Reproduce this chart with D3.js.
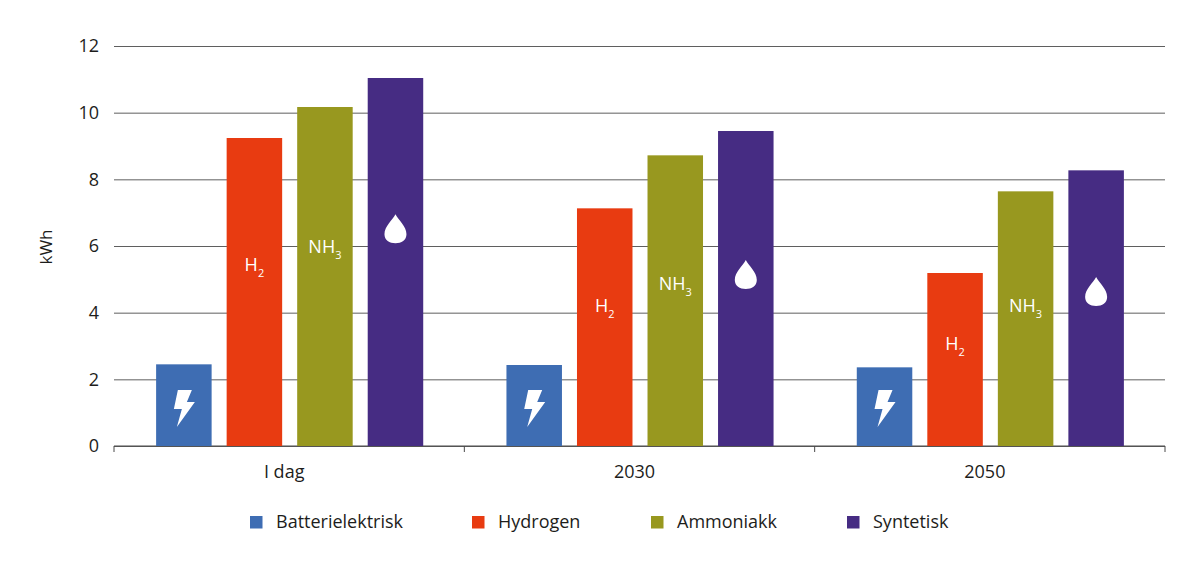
<!DOCTYPE html>
<html><head><meta charset="utf-8">
<script src="https://cdn.jsdelivr.net/npm/d3@7/dist/d3.min.js"></script>
<style>
html,body{margin:0;padding:0;background:#fff}
svg{display:block}
text{font-family:"Open Sans",sans-serif;fill:#1d1d1b}
</style></head><body>
<svg id="c" width="1200" height="569"></svg>
<script>
const periods = ["I dag", "2030", "2050"];
const seriesNames = ["Batterielektrisk", "Hydrogen", "Ammoniakk", "Syntetisk"];
const batteri = [2.45, 2.43, 2.36];
const hydrogen = [9.24, 7.13, 5.19];
const ammoniakk = [10.17, 8.72, 7.64];
const syntetisk = [11.04, 9.45, 8.27];
const colors = ["#3e6db3", "#e83b11", "#98981f", "#462c83"];
const yTicks = [0, 2, 4, 6, 8, 10, 12];
// heights (kWh) at which the icon / formula sits inside each bar
const batteriMark = [1.14, 1.14, 1.14];
const hydrogenMark = [5.43, 4.2, 3.06];
const ammoniakkMark = [5.97, 4.86, 4.2];
const syntetiskMark = [6.5, 5.13, 4.62];
const allValues = [batteri, hydrogen, ammoniakk, syntetisk];
const allMarks = [batteriMark, hydrogenMark, ammoniakkMark, syntetiskMark];
const markKinds = ["bolt", "H2", "NH3", "drop"];

const L = 114, R = 1165, T = 46, B = 446;
const svg = d3.select("#c");
const x0 = d3.scaleBand().domain(periods).range([L, R]);
const x1 = d3.scaleBand().domain(seriesNames).range([0.5, x0.bandwidth() + 0.5]).paddingInner(0.213).paddingOuter(0.59);
const y = d3.scaleLinear().domain([0, 12]).range([B, T]);

// grid + y axis labels
const gy = svg.append("g").attr("transform", `translate(${L},0)`)
  .call(d3.axisLeft(y).tickValues(yTicks).tickSize(-(R - L)).tickPadding(15).tickFormat(d3.format("d")));
gy.select(".domain").remove();
gy.selectAll(".tick line").attr("stroke", "#5f5f5f").attr("stroke-width", 1);
gy.selectAll(".tick text").style("font-size", "18px");

// x axis
const gx = svg.append("g").attr("transform", `translate(0,${B})`)
  .call(d3.axisBottom(x0).tickSize(0).tickPadding(19));
gx.select(".domain").attr("stroke", "#4a4a4a").attr("d", `M${L},0H${R}`);
gx.selectAll(".tick text").style("font-size", "18px").attr("dx", -5);
gx.selectAll(".sep").data(d3.range(periods.length + 1)).enter().append("line")
  .attr("class", "sep").attr("stroke", "#4a4a4a")
  .attr("x1", i => i < periods.length ? x0(periods[i]) : R)
  .attr("x2", i => i < periods.length ? x0(periods[i]) : R)
  .attr("y1", 0).attr("y2", 6);

// bars
seriesNames.forEach((s, si) => {
  svg.append("g").selectAll("rect").data(periods).enter().append("rect")
    .attr("x", p => x0(p) + x1(s))
    .attr("width", x1.bandwidth())
    .attr("y", (p, i) => y(allValues[si][i]))
    .attr("height", (p, i) => y(0) - y(allValues[si][i]))
    .attr("fill", colors[si]);
});

// marks inside bars
const boltPath = "M-6,-18 L8,-18 L3,-6 L11,-6 L-7,19 L-2,1 L-10,1 Z";
const dropPath = "M0,-15 C3,-9 11,-3 11,5 C11,11 6,14 0,14 C-6,14 -11,11 -11,5 C-11,-3 -3,-9 0,-15 Z";
seriesNames.forEach((s, si) => {
  periods.forEach((p, i) => {
    const cx = x0(p) + x1(s) + x1.bandwidth() / 2, cy = y(allMarks[si][i]);
    const kind = markKinds[si];
    if (kind === "bolt" || kind === "drop") {
      svg.append("path").attr("d", kind === "bolt" ? boltPath : dropPath)
        .attr("transform", `translate(${cx},${cy})`).attr("fill", "#fff");
    } else {
      const t = svg.append("text").attr("x", cx).attr("y", cy + 6).attr("text-anchor", "middle")
        .style("fill", "#fff").style("font-size", "18px");
      t.append("tspan").text(kind === "H2" ? "H" : "NH");
      t.append("tspan").attr("dy", 6).style("font-size", "11px").text(kind === "H2" ? "2" : "3");
    }
  });
});

// y title
svg.append("text").attr("transform", "translate(52,247) rotate(-90)").attr("text-anchor", "middle")
  .style("font-size", "17px").text("kWh");

// legend
const legendX = [250, 472, 651, 847];
const lg = svg.append("g").selectAll("g").data(seriesNames).enter().append("g")
  .attr("transform", (d, i) => `translate(${legendX[i]},522)`);
lg.append("rect").attr("y", -6).attr("width", 12.5).attr("height", 12.5).attr("fill", (d, i) => colors[i]);
lg.append("text").attr("x", 26).attr("y", 6).style("font-size", "18px").text(d => d);
</script>
</body></html>
